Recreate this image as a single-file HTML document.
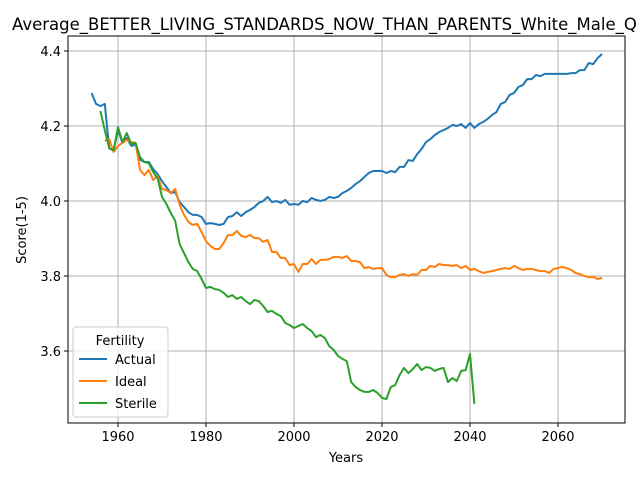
<!DOCTYPE html>
<html><head><meta charset="utf-8"><style>
body{margin:0;background:#fff}
svg{display:block;font-family:"DejaVu Sans","Liberation Sans",sans-serif}
</style></head><body>
<svg id="chart" width="640" height="480" xmlns="http://www.w3.org/2000/svg">
<text x="12" y="30" font-size="16.5">Average_BETTER_LIVING_STANDARDS_NOW_THAN_PARENTS_White_Male_Q</text>
<g id="grid"></g><g id="series"></g><g id="axes"></g>
<text x="346" y="462" font-size="13" text-anchor="middle">Years</text>
<text transform="translate(26,230) rotate(-90)" font-size="13" text-anchor="middle">Score(1-5)</text>
<g>
<rect x="73" y="327" width="95" height="90" rx="3" fill="#fff" fill-opacity="0.8" stroke="#ccc"/>
<text x="120" y="345" font-size="13" text-anchor="middle">Fertility</text>
<g><line x1="79" x2="107" y1="359" y2="359" stroke="#1f77b4" stroke-width="2"/><text x="115" y="364" font-size="13">Actual</text></g>
<g><line x1="79" x2="107" y1="381" y2="381" stroke="#ff7f0e" stroke-width="2"/><text x="115" y="386" font-size="13">Ideal</text></g>
<g><line x1="79" x2="107" y1="403" y2="403" stroke="#2ca02c" stroke-width="2"/><text x="115" y="408" font-size="13">Sterile</text></g>
</g>
</svg>
<script>
const xTicks=[1960,1980,2000,2020,2040,2060];
const yTicks=[3.6,3.8,4.0,4.2,4.4];
const yTickLabels=["3.6","3.8","4.0","4.2","4.4"];
const actualStart=1954;
const actual=[4.288,4.259,4.253,4.259,4.14,4.135,4.19,4.155,4.168,4.147,4.15,4.11,4.104,4.104,4.085,4.072,4.053,4.037,4.021,4.024,3.997,3.984,3.97,3.963,3.963,3.957,3.939,3.941,3.939,3.936,3.939,3.957,3.96,3.97,3.96,3.97,3.976,3.984,3.995,4.0,4.011,3.997,4.0,3.995,4.003,3.99,3.992,3.99,4.0,3.997,4.008,4.003,4.0,4.003,4.011,4.008,4.011,4.021,4.027,4.035,4.045,4.053,4.064,4.075,4.08,4.08,4.08,4.075,4.08,4.077,4.091,4.091,4.109,4.107,4.125,4.139,4.157,4.165,4.176,4.184,4.189,4.195,4.203,4.2,4.205,4.195,4.208,4.195,4.205,4.211,4.219,4.229,4.237,4.259,4.264,4.283,4.288,4.304,4.309,4.325,4.325,4.336,4.333,4.339,4.339,4.339,4.339,4.339,4.339,4.341,4.341,4.349,4.349,4.368,4.365,4.381,4.392];
const idealStart=1957;
const ideal=[4.16,4.165,4.131,4.147,4.155,4.163,4.157,4.155,4.083,4.069,4.083,4.056,4.067,4.032,4.029,4.021,4.032,3.99,3.963,3.944,3.936,3.939,3.917,3.893,3.88,3.872,3.872,3.888,3.909,3.909,3.92,3.907,3.904,3.909,3.901,3.901,3.891,3.896,3.864,3.864,3.848,3.848,3.829,3.832,3.811,3.832,3.832,3.845,3.832,3.843,3.843,3.845,3.851,3.851,3.848,3.853,3.84,3.84,3.837,3.821,3.824,3.819,3.821,3.821,3.803,3.797,3.797,3.803,3.805,3.8,3.805,3.803,3.816,3.816,3.827,3.824,3.832,3.829,3.829,3.827,3.829,3.821,3.827,3.816,3.819,3.813,3.808,3.811,3.813,3.816,3.819,3.821,3.819,3.827,3.821,3.816,3.819,3.819,3.816,3.813,3.813,3.808,3.819,3.821,3.824,3.821,3.816,3.808,3.805,3.8,3.797,3.797,3.792,3.795];
const sterileStart=1956;
const sterile=[4.24,4.189,4.141,4.135,4.197,4.157,4.181,4.152,4.155,4.117,4.104,4.101,4.077,4.061,4.011,3.992,3.968,3.947,3.885,3.861,3.837,3.819,3.813,3.792,3.768,3.771,3.765,3.763,3.755,3.744,3.749,3.739,3.744,3.733,3.725,3.736,3.733,3.72,3.704,3.707,3.699,3.693,3.675,3.669,3.661,3.667,3.672,3.661,3.653,3.637,3.643,3.635,3.613,3.603,3.587,3.579,3.573,3.517,3.504,3.496,3.491,3.491,3.496,3.488,3.475,3.472,3.504,3.509,3.536,3.555,3.541,3.552,3.565,3.549,3.557,3.555,3.547,3.552,3.555,3.517,3.528,3.52,3.547,3.549,3.592,3.459];
const NS="http://www.w3.org/2000/svg";
const L=68,R=625,T=36,B=423;
function xs(y){return 118+(y-1960)*4.4;}
function ys(v){return 201-(v-4.0)*375;}
function mk(t,a,p){const e=document.createElementNS(NS,t);for(const k in a)e.setAttribute(k,a[k]);p.appendChild(e);return e;}
const grid=document.getElementById('grid'),axes=document.getElementById('axes'),ser=document.getElementById('series');
xTicks.forEach(t=>{const x=xs(t);
const g=mk('line',{x1:x,x2:x,y1:T,y2:B,stroke:'#b0b0b0','stroke-width':1},grid);


mk('line',{x1:x,x2:x,y1:B,y2:B+4,stroke:'#000'},axes);
const tx=mk('text',{x:x,y:B+18,'font-size':13,'text-anchor':'middle'},axes);tx.textContent=t;

});
yTicks.forEach((t,i)=>{const y=ys(t);
const g=mk('line',{x1:L,x2:R,y1:y,y2:y,stroke:'#b0b0b0','stroke-width':1},grid);


mk('line',{x1:L-4,x2:L,y1:y,y2:y,stroke:'#000'},axes);
const tx=mk('text',{x:L-7,y:y+5,'font-size':13,'text-anchor':'end'},axes);tx.textContent=yTickLabels[i];

});
const fr=mk('rect',{x:L,y:T,width:R-L,height:B-T,fill:'none',stroke:'#000','stroke-width':1},axes);


function line(arr,start,color,name){const p=arr.map((v,i)=>xs(start+i).toFixed(1)+','+ys(v).toFixed(1)).join(' ');
const e=mk('polyline',{points:p,fill:'none',stroke:color,'stroke-width':2,'stroke-linejoin':'round'},ser);

}
line(actual,actualStart,'#1f77b4','actual-line');
line(ideal,idealStart,'#ff7f0e','ideal-line');
line(sterile,sterileStart,'#2ca02c','sterile-line');
</script>
</body></html>
